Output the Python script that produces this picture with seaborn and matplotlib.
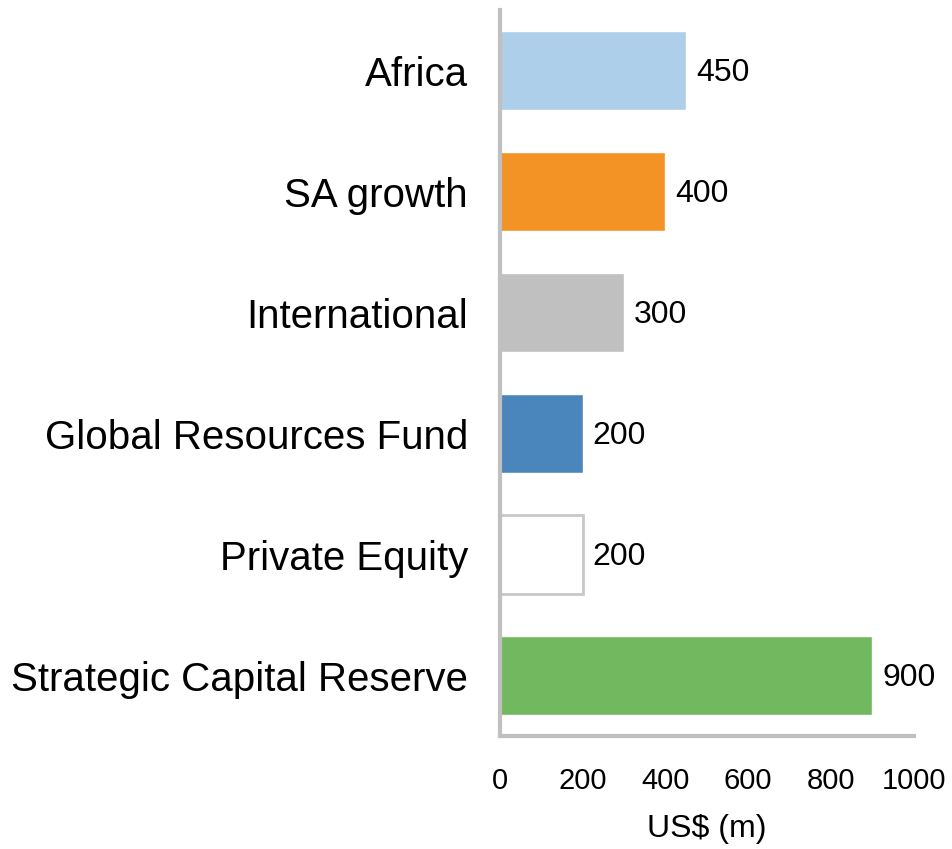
import pandas as pd
import matplotlib.pyplot as plt
import seaborn as sns

categories = ["Africa", "SA growth", "International", "Global Resources Fund",
              "Private Equity", "Strategic Capital Reserve"]
values = [450, 400, 300, 200, 200, 900]
colors = ["#aecfea", "#f39325", "#c0c0c0", "#4a86bb", "#ffffff", "#72b85f"]
xticks = [0, 200, 400, 600, 800, 1000]

df = pd.DataFrame({"category": categories, "value": values})

sns.set_style("white")
plt.rcParams["font.family"] = ["Liberation Sans", "DejaVu Sans"]
plt.rcParams["text.color"] = "black"
plt.rcParams["xtick.color"] = "black"
plt.rcParams["ytick.color"] = "black"
plt.rcParams["axes.labelcolor"] = "black"

fig = plt.figure(figsize=(9.53, 8.49), dpi=100)
ax = fig.add_axes([0.5247, 0.1331, 0.434, 0.855])
sns.barplot(data=df, x="value", y="category", hue="category", palette=colors,
            legend=False, width=0.65, saturation=1, ax=ax)

# white bar gets a grey outline
for patch, c in zip(ax.patches, colors):
    if c == "#ffffff":
        patch.set_edgecolor("#c8c8c8")
        patch.set_linewidth(2)

for cont in ax.containers:
    lbls = ax.bar_label(cont, padding=7, fontsize=23, color="black")
    for t in lbls:
        t.xyann = (7, -2)

ax.set_xlim(0, 1000)
ax.set_xticks(xticks)
ax.tick_params(axis="x", length=0, pad=22, labelsize=21)
ax.tick_params(axis="y", length=0, pad=23, labelsize=29)
ax.set_ylabel("")
ax.set_xlabel("US$ (m)", fontsize=23, labelpad=14)

for s in ["top", "right"]:
    ax.spines[s].set_visible(False)
for s in ["left", "bottom"]:
    ax.spines[s].set_color("#c0c0c0")
    ax.spines[s].set_linewidth(3)

plt.savefig("out.png", dpi=100)
